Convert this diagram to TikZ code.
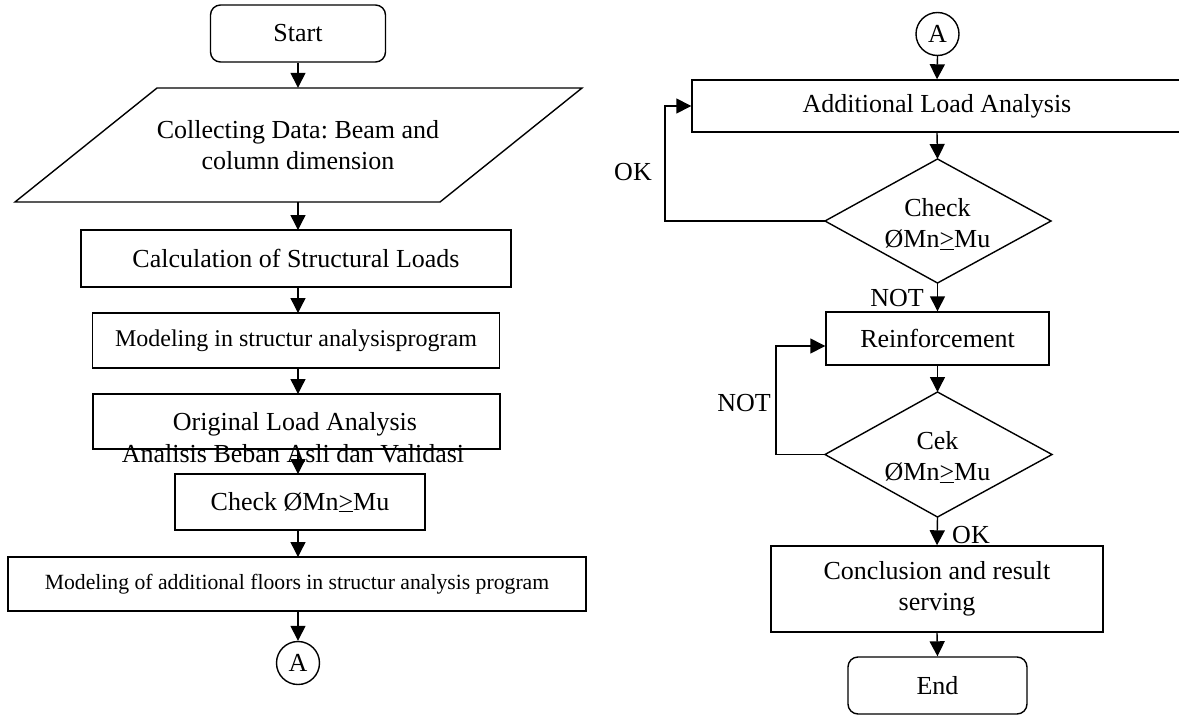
\documentclass[tikz,border=0pt]{standalone}
\usepackage{fontspec}
\setmainfont{Liberation Serif}
\usetikzlibrary{arrows.meta}
\newcommand\myfA{\fontsize{26}{31}\selectfont}
\newcommand\myfB{\fontsize{24}{29}\selectfont}
\newcommand\myfC{\fontsize{21.7}{26}\selectfont}
\newcommand\myge{\underline{>}}
\frenchspacing
\begin{document}
\begin{tikzpicture}[x=1pt,y=-1pt,
  box/.style={draw,line width=1.4pt,inner sep=0pt,align=center,font=\myfA},
  rbox/.style={box,rounded corners=10pt},
  txt/.style={inner sep=0pt,align=center,font=\myfA},
  conn/.style={draw,circle,line width=1.4pt,inner sep=0pt,minimum size=43pt,font=\myfA},
  flow/.style={-{Triangle[width=15pt,length=15pt]},line width=1.4pt},
  line/.style={line width=1.4pt}]
\fill[white] (0,0) rectangle (1179,715);
\useasboundingbox (0,0) rectangle (1179,715);

% ---------------- left column ----------------
\node[rbox,minimum width=175pt,minimum height=57pt] (start) at (298,33.5) {Start};
\draw[line] (157,88) -- (582,88) -- (440,202) -- (15,202) -- cycle;
\node[txt,minimum width=300pt,minimum height=114pt] (collect) at (298,145) {Collecting Data: Beam and\\column dimension};
\node[box,minimum width=430pt,minimum height=57pt] (calc) at (296,258.5) {Calculation of Structural Loads};
\node[box,minimum width=407pt,minimum height=55pt,font=\myfB] (model) at (296,340.5) {Modeling in structur analysisprogram};
\node[box,minimum width=407pt,minimum height=55pt] (orig) at (296.5,421.5) {};
\node[txt] (origA) at (295,424) {Original Load Analysis};
\node[txt] (origB) at (293,454) {Analisis Beban Asli dan Validasi};
\node[box,minimum width=250pt,minimum height=56pt] (check) at (300,502) {Check ØMn\myge Mu};
\node[box,minimum width=578pt,minimum height=54pt,font=\myfC] (addfl) at (297,584) {Modeling of additional floors in structur analysis program};
\node[conn] (A1) at (298,663) {A};

\draw[flow] (start.south) -- (collect.north);
\draw[flow] (collect.south) -- (298,230);
\draw[flow] (298,287) -- (298,313);
\draw[flow] (298,368) -- (298,394);
\draw[flow] (298,449) -- (298,474);
\draw[flow] (298,530) -- (298,557);
\draw[flow] (298,611) -- (A1.north);

% ---------------- right column ----------------
\node[conn] (A2) at (937.5,34) {A};
\node[box,minimum width=490pt,minimum height=52pt] (addload) at (937,106) {Additional Load Analysis};

\coordinate (d1t) at (937.5,159);
\coordinate (d1l) at (825,221);
\coordinate (d1r) at (1051,221);
\coordinate (d1b) at (937.5,283);
\draw[line] (d1t) -- (d1r) -- (d1b) -- (d1l) -- cycle;
\node[txt] (d1) at (937.5,224) {Check\\ØMn\myge Mu};

\node[box,minimum width=223pt,minimum height=53pt] (reinf) at (937.5,338.5) {Reinforcement};

\coordinate (d2t) at (937.5,392);
\coordinate (d2l) at (825,454.5);
\coordinate (d2r) at (1052,454.5);
\coordinate (d2b) at (937.5,517);
\draw[line] (d2t) -- (d2r) -- (d2b) -- (d2l) -- cycle;
\node[txt] (d2) at (937.5,457) {Cek\\ØMn\myge Mu};

\node[box,minimum width=332pt,minimum height=86pt] (concl) at (937,589) {Conclusion and result\\serving};
\node[rbox,minimum width=179pt,minimum height=57pt] (endn) at (937.5,685.5) {End};

\node[txt] (okA) at (633,172) {OK};
\node[txt] (notA) at (897,298) {NOT};
\node[txt] (notB) at (744,403) {NOT};
\node[txt] (okB) at (971,535) {OK};

\coordinate (okbend) at (665,221);
\coordinate (notbend) at (776,454.5);

\draw[flow] (A2.south) -- (addload.north);
\draw[flow] (addload.south) -- (d1t);
\draw[flow] (d1l) -- (okbend) |- (addload.west);
\draw[flow] (d1b) -- (reinf.north);
\draw[flow] (reinf.south) -- (d2t);
\draw[flow] (d2l) -- (notbend) |- ([yshift=-7.5pt]reinf.west);
\draw[flow] (d2b) -- (concl.north);
\draw[flow] (concl.south) -- (endn.north);
\end{tikzpicture}
\end{document}
